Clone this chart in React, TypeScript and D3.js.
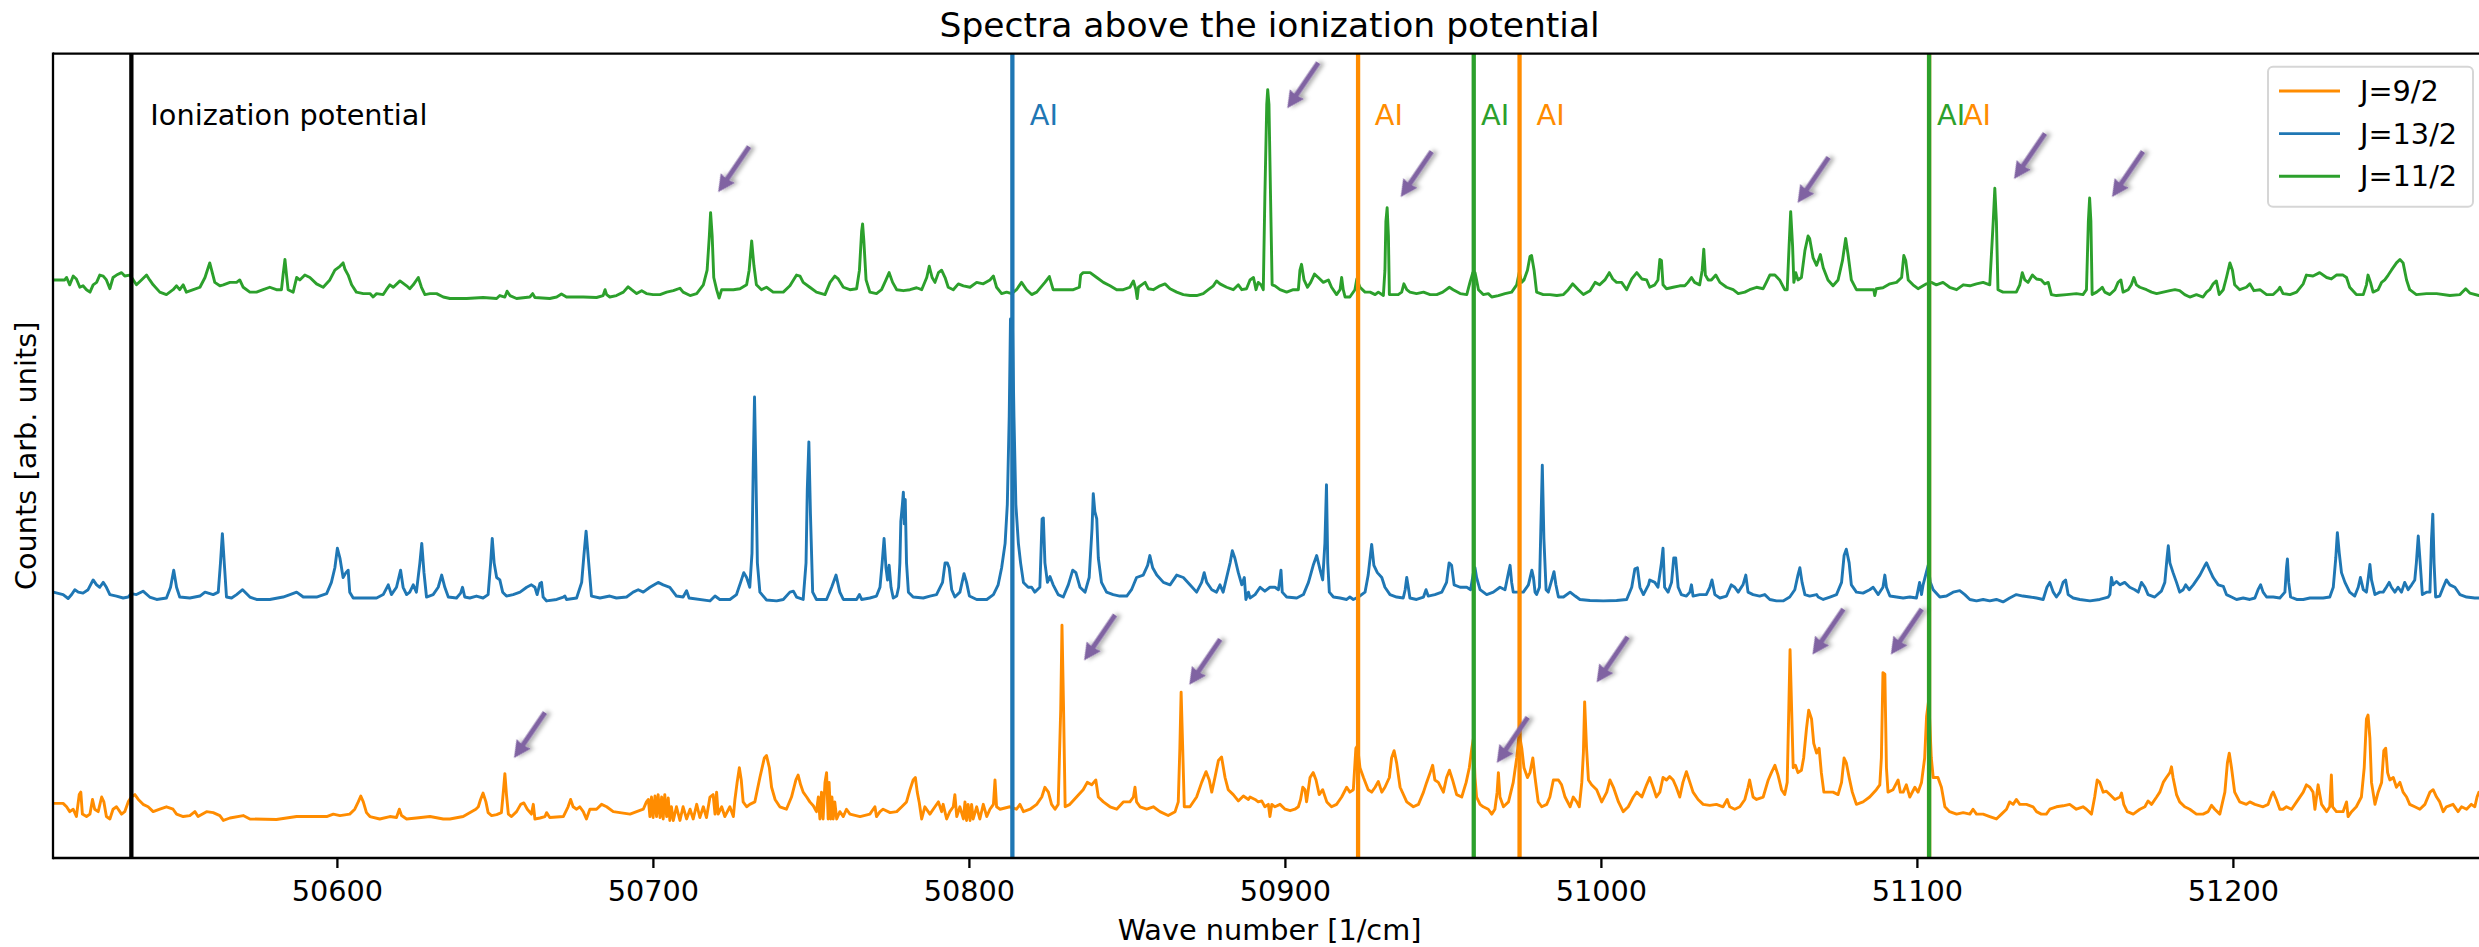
import React from 'react';
import * as d3 from 'd3';

const WIDTH = 2479;
const HEIGHT = 947;
const TITLE = 'Spectra above the ionization potential';
const X_LABEL = 'Wave number [1/cm]';
const Y_LABEL = 'Counts [arb. units]';
const X_TICKS = [50600, 50700, 50800, 50900, 51000, 51100, 51200];
const X_DOMAIN: [number, number] = [50510, 51280];
const Y_DOMAIN: [number, number] = [0, 1649];

const SERIES_NAMES = ['J=9/2', 'J=13/2', 'J=11/2'];
const SERIES_COLORS = ['#ff8c00', '#1f77b4', '#2ca02c'];

type P = [number, number];

// J=9/2 (orange)
const J9_2: P[] = [
[50510.1,112],[50513.2,112],[50514.3,105],[50515.3,95],[50516.4,100],[50517.4,85],[50518.3,130],[50518.8,135],[50519.3,90],[50520.6,85],[50521.7,90],[50522.5,120],[50523.2,100],[50524.3,95],[50525.4,125],[50526.1,115],[50526.9,85],[50528.0,80],[50529.0,100],[50530.1,105],[50531.7,90],[50532.7,95],[50533.8,115],[50534.8,125],[50535.9,130],[50537.0,120],[50538.5,110],[50540.1,105],[50541.7,95],[50543.8,100],[50545.9,105],[50548.0,100],[50549.1,90],[50551.2,85],[50553.3,87],[50554.9,95],[50555.9,85],[50558.6,95],[50560.7,93],[50562.8,87],[50563.9,77],[50566.0,82],[50570.2,87],[50572.3,80],[50580.7,79],[50587.1,85],[50593.4,85],[50596.6,85],[50598.7,90],[50600.8,87],[50603.9,90],[50605.5,100],[50606.6,115],[50607.4,127],[50608.2,115],[50609.2,93],[50610.3,85],[50613.4,80],[50616.6,85],[50618.7,83],[50619.6,100],[50620.3,87],[50621.9,80],[50625.0,82],[50629.3,85],[50633.5,80],
[50635.6,80],[50639.8,85],[50643.8,100],[50644.6,105],[50645.3,120],[50646.1,133],[50647.0,115],[50647.7,93],[50648.8,87],[50650.4,89],[50651.9,93],[50652.5,135],[50653.0,173],[50653.5,130],[50654.1,90],[50655.1,85],[50656.7,95],[50658.0,110],[50659.0,113],[50660.1,100],[50661.4,90],[50662.0,110],[50662.5,80],[50664.1,82],[50665.7,85],[50666.2,93],[50667.2,83],[50671.5,85],[50673.0,105],[50673.8,120],[50674.6,105],[50675.7,100],[50676.7,105],[50677.8,95],[50678.8,80],[50679.9,100],[50682.0,100],[50683.6,110],[50685.2,105],[50687.3,95],[50689.4,93],[50692.6,90],[50694.7,95],[50696.8,100],[50697.8,115],[50698.4,120],[50698.9,85],[50699.4,125],[50699.9,83],[50700.5,127],[50701.0,85],[50701.5,130],[50702.1,83],[50702.6,125],[50703.1,80],[50703.6,130],[50704.2,85],[50704.7,123],[50705.2,77],[50705.7,105],[50706.3,77],[50707.3,105],[50708.4,77],[50709.4,105],[50710.5,80],[50711.6,100],[50712.6,80],[50713.7,110],[50714.7,83],[50715.8,105],[50716.8,83],[50717.9,125],[50718.9,130],[50719.5,90],[50720.0,135],[50720.5,90],[50721.6,105],[50722.6,85],[50724.2,105],[50725.3,85],[50725.8,120],[50726.5,155],[50727.2,185],[50727.8,160],[50728.4,115],[50729.5,105],[50730.5,110],[50732.1,115],[50733.7,165],[50735.1,205],[50735.8,210],[50736.7,185],[50737.4,145],[50738.5,120],[50740.0,105],[50742.1,100],[50743.7,125],[50745.1,160],[50745.8,170],[50746.6,150],[50747.4,135],[50748.5,125],[50749.5,115],[50750.6,107],[50751.6,95],[50752.2,125],[50752.7,80],[50753.2,135],[50753.7,80],[50754.3,155],[50754.8,175],[50755.3,80],[50755.6,155],[50756.1,80],[50756.5,125],[50756.9,80],[50757.4,115],[50758.0,80],[50759.0,95],[50760.1,85],[50761.1,100],
[50762.2,90],[50765.4,85],[50768.5,90],[50770.1,105],[50770.6,85],[50771.7,95],[50772.7,100],[50774.9,93],[50777.0,95],[50778.6,105],[50780.1,115],[50781.2,140],[50782.2,160],[50782.9,165],[50783.5,135],[50784.1,115],[50784.9,80],[50785.9,105],[50787.5,90],[50789.1,105],[50790.2,115],[50791.2,95],[50791.7,110],[50792.8,80],[50793.8,95],[50794.9,105],[50795.4,130],[50796.0,85],[50797.0,105],[50798.1,80],[50798.6,115],[50799.1,77],[50799.6,110],[50800.2,77],[50800.7,110],[50801.2,80],[50802.3,105],[50803.3,80],[50804.4,110],[50805.5,85],[50806.5,100],[50807.6,110],[50808.1,160],[50808.6,105],[50809.7,100],[50812.8,105],[50814.9,100],[50816.0,110],[50817.1,95],[50819.2,100],[50821.3,110],[50822.9,125],[50823.9,145],[50825.0,135],[50826.0,110],[50827.1,100],[50828.1,110],[50828.9,305],[50829.3,477],[50829.8,305],[50830.3,105],[50831.8,110],[50833.9,125],[50836.0,140],[50837.3,155],[50838.7,150],[50840.0,160],[50840.8,125],[50842.4,115],[50844.5,105],[50846.6,100],[50848.7,115],[50850.8,115],[50851.9,125],[50852.4,145],[50852.9,115],[50854.0,105],[50856.1,100],[50858.2,105],[50860.3,95],[50862.9,87],[50865.1,95],[50866.1,115],[50866.6,225],[50867.0,340],[50867.5,225],[50868.0,105],[50869.8,105],[50871.9,125],[50873.5,155],[50874.9,177],[50875.9,160],[50876.7,135],[50877.7,165],[50878.8,200],[50879.8,207],[50880.9,165],[50881.9,140],[50883.5,130],[50885.1,117],[50886.7,127],[50888.3,120],
[50888.8,125],[50890.4,120],[50891.4,115],[50892.5,117],[50893.5,105],[50894.6,110],[50895.1,85],[50895.7,110],[50896.7,105],[50898.3,110],[50899.9,100],[50901.5,97],[50903.0,100],[50904.1,105],[50904.8,120],[50905.5,145],[50906.2,140],[50906.7,115],[50907.8,165],[50908.8,175],[50909.7,160],[50910.7,130],[50911.8,140],[50913.1,115],[50914.6,105],[50916.2,110],[50917.8,125],[50919.4,145],[50920.4,135],[50921.5,140],[50922.3,225],[50922.8,230],[50923.6,185],[50924.7,165],[50926.2,140],[50927.3,135],[50928.4,145],[50929.4,157],[50930.5,135],[50931.5,145],[50932.9,165],[50933.6,205],[50934.4,220],[50935.2,195],[50936.3,145],[50938.4,115],[50940.5,105],[50942.1,110],[50943.7,135],[50944.7,155],[50945.8,175],[50946.6,190],[50947.3,160],[50948.4,155],[50950.0,135],[50951.0,165],[50951.9,180],[50952.9,160],[50954.2,130],[50955.8,125],[50957.2,155],[50958.2,185],[50959.0,225],[50959.5,245],[50960.0,165],[50960.5,125],[50961.6,110],[50962.6,105],[50964.2,100],[50965.3,90],[50966.3,100],[50967.0,135],[50967.4,175],[50967.9,125],[50969.0,105],[50970.6,115],[50972.1,155],[50973.2,205],[50974.0,255],[50974.8,225],[50975.5,185],[50976.6,165],[50977.4,175],[50978.3,205],[50979.0,165],[50980.0,115],[50981.1,105],[50982.7,110],[50983.7,125],[50984.8,160],[50986.4,160],[50987.4,150],[50988.5,125],[50990.1,105],[50991.1,125],[50992.2,115],[50993.0,105],[50993.8,155],[50994.3,215],[50994.7,320],[50995.3,225],[50995.9,160],[50996.9,150],[50998.5,140],[51000.1,115],[51001.7,135],[51002.7,160],[51003.8,145],[51005.4,115],[51006.9,95],[51008.5,105],[51010.1,125],[51011.2,135],[51012.8,125],[51014.3,150],
[51015.3,165],[51016.4,145],[51017.4,125],[51018.5,135],[51019.5,165],[51020.6,160],[51021.6,167],[51022.7,160],[51023.7,145],[51024.8,125],[51025.8,155],[51026.9,177],[51028.0,155],[51029.0,135],[51030.6,120],[51032.2,110],[51034.3,108],[51036.4,110],[51038.5,105],[51039.8,120],[51040.6,105],[51042.2,100],[51043.8,105],[51045.4,120],[51046.4,145],[51046.9,160],[51048.0,125],[51049.1,120],[51051.2,125],[51052.8,160],[51053.8,175],[51054.9,190],[51055.9,170],[51057.0,140],[51058.0,130],[51058.8,155],[51059.3,305],[51059.7,427],[51060.2,305],[51060.7,185],[51061.4,190],[51062.2,175],[51063.3,180],[51064.0,205],[51064.9,265],[51065.6,303],[51066.5,285],[51067.2,235],[51068.1,215],[51068.9,225],[51069.6,175],[51070.4,135],[51071.7,135],[51073.3,135],[51074.9,130],[51076.0,155],[51076.8,205],[51077.5,195],[51078.4,165],[51079.4,135],[51080.7,110],[51082.8,115],[51084.9,125],[51087.0,140],[51088.1,150],[51088.6,205],[51089.1,380],[51089.7,377],[51090.2,185],[51090.7,135],[51092.3,140],[51093.9,160],[51094.6,135],[51095.5,135],[51096.5,150],[51097.6,125],[51099.2,145],[51100.2,135],[51101.3,155],[51102.3,205],[51102.9,290],[51103.6,325],[51104.4,205],[51105.0,165],[51106.5,165],[51107.6,145],[51108.7,105],[51110.2,95],[51112.4,90],[51114.5,93],[51116.6,90],[51117.6,100],[51118.7,90],[51120.8,90],[51122.9,85],[51125.0,80],[51126.6,90],[51128.2,100],[51129.2,115],[51130.3,110],[51131.3,120],[51132.4,110],[51134.5,110],[51136.6,105],[51137.7,95],[51139.2,90],[51140.8,90],
[51141.9,100],[51144.0,105],[51146.1,107],[51148.2,110],[51150.3,100],[51152.4,105],[51153.5,100],[51155.1,90],[51156.1,125],[51156.9,160],[51157.7,155],[51158.8,135],[51159.8,137],[51160.9,130],[51162.5,120],[51164.1,125],[51164.6,133],[51165.3,110],[51166.4,95],[51168.3,90],[51170.4,100],[51172.0,105],[51173.0,117],[51174.1,110],[51175.7,125],[51176.7,135],[51177.8,155],[51178.8,165],[51179.9,175],[51180.4,187],[51180.9,165],[51182.0,130],[51183.0,115],[51184.6,105],[51186.2,100],[51188.3,90],[51190.4,90],[51192.0,95],[51193.1,108],[51194.1,100],[51195.7,90],[51197.3,135],[51198.1,195],[51198.7,215],[51199.4,185],[51200.4,135],[51202.0,115],[51204.1,110],[51205.2,115],[51206.8,110],[51209.4,105],[51211.0,110],[51212.1,130],[51212.6,135],[51213.6,120],[51214.7,100],[51215.7,100],[51216.8,105],[51218.4,100],[51220.0,115],[51222.1,135],[51223.1,150],[51224.2,145],[51225.2,135],[51225.8,100],[51226.8,150],[51227.9,110],[51229.5,95],[51230.5,105],[51231.0,170],[51231.4,105],[51232.6,95],[51234.7,95],[51235.8,115],[51236.3,85],[51237.4,95],[51238.9,105],[51240.5,125],[51241.4,185],[51242.1,285],[51242.6,293],[51243.2,245],[51243.7,155],[51244.8,110],[51245.8,135],[51246.9,155],[51247.6,220],[51248.2,225],[51248.8,175],[51249.5,160],[51250.6,165],[51251.6,145],[51252.7,155],[51253.7,135],[51254.8,125],[51255.8,110],[51257.4,105],[51259.0,100],[51260.6,110],[51262.2,135],[51263.2,140],[51264.3,125],[51265.3,115],[51266.4,95],[51267.4,105],[51269.5,110],[51271.1,95],[51272.2,105],[51273.8,100],[51275.3,110],[51276.4,105],[51277.1,125],[51277.7,135],[51280,130]
];

// J=13/2 (blue)
const J13_2: P[] = [
[50510.1,545],[50513.2,540],[50514.8,532],[50515.9,540],[50516.9,550],[50518.0,545],[50519.5,543],[50521.1,550],[50522.7,570],[50523.8,560],[50524.8,555],[50525.9,565],[50526.9,555],[50528.0,540],[50530.1,537],[50532.2,533],[50533.8,535],[50534.8,542],[50536.4,540],[50538.5,547],[50540.6,535],[50542.8,530],[50545.9,533],[50547.2,555],[50548.2,590],[50549.1,555],[50550.1,535],[50553.3,533],[50556.5,537],[50558.1,545],[50560.7,540],[50562.3,545],[50563.0,605],[50563.6,665],[50564.3,595],[50564.9,535],[50566.5,533],[50568.1,540],[50570.0,550],[50572.3,535],[50574.4,530],[50578.6,530],[50582.8,535],[50585.0,540],[50587.1,545],[50589.2,535],[50593.4,535],[50596.6,542],[50598.1,565],[50599.2,595],[50600.0,635],[50600.8,615],[50601.8,575],[50602.7,585],[50603.4,590],[50603.9,545],[50605.0,533],[50609.2,533],[50612.4,533],[50614.5,540],[50616.1,560],[50617.1,540],[50618.7,555],[50620.0,590],[50620.8,555],[50621.9,540],[50622.9,545],[50624.0,560],[50625.0,545],[50626.1,605],[50626.7,645],[50627.4,585],[50628.2,535],[50630.3,540],[50631.9,555],[50633.0,580],[50634.0,555],[50635.1,535],
[50637.7,533],[50639.0,543],[50639.6,555],[50640.3,535],[50641.9,533],[50644.0,537],[50646.1,533],[50647.7,540],[50648.5,605],[50649.0,655],[50649.6,605],[50650.4,575],[50651.4,570],[50652.3,545],[50653.5,537],[50655.6,540],[50657.8,545],[50659.9,555],[50661.4,560],[50662.5,555],[50663.2,540],[50664.1,563],[50664.6,565],[50665.1,535],[50666.2,527],[50669.4,530],[50671.5,535],[50672.0,537],[50672.5,530],[50675.7,533],[50677.3,565],[50678.0,620],[50678.7,670],[50679.4,615],[50680.4,537],[50683.1,533],[50686.2,537],[50688.3,533],[50691.5,535],[50693.6,545],[50695.2,550],[50696.8,545],[50698.9,555],[50701.5,565],[50703.1,560],[50705.2,555],[50707.3,537],[50709.4,535],[50710.5,548],[50711.3,533],[50717.9,527],[50719.5,537],[50721.0,530],[50724.2,530],[50726.3,540],[50727.6,565],[50728.6,585],[50729.5,575],[50730.5,555],[50731.2,625],[50731.6,805],[50732.0,945],[50732.4,805],[50732.9,605],[50733.7,545],[50735.8,529],[50739.0,527],[50741.1,530],[50743.2,545],[50744.3,547],[50745.3,535],[50747.4,530],[50748.3,605],[50748.7,755],[50749.2,853],[50749.7,705],[50750.4,545],[50751.6,530],[50754.8,530],[50756.4,555],[50757.8,580],[50759.0,545],[50760.1,530],
[50762.2,530],[50764.3,530],[50765.2,540],[50765.9,530],[50768.5,533],[50770.6,537],[50771.7,555],[50772.4,605],[50773.0,655],[50773.6,595],[50774.1,570],[50774.6,600],[50775.2,555],[50775.9,533],[50777.0,537],[50777.6,555],[50778.0,605],[50778.3,690],[50778.8,725],[50779.1,750],[50779.4,685],[50779.7,735],[50780.1,605],[50780.7,545],[50782.2,535],[50785.4,533],[50787.5,537],[50789.6,540],[50791.5,565],[50792.3,605],[50793.0,605],[50793.6,595],[50794.4,550],[50795.4,535],[50797.0,545],[50798.3,583],[50799.1,565],[50800.0,537],[50802.3,530],[50805.5,530],[50807.6,540],[50809.1,560],[50810.2,595],[50811.3,645],[50812.0,725],[50812.6,905],[50813.0,1105],[50813.6,1105],[50814.1,905],[50814.7,725],[50815.5,645],[50816.2,605],[50817.1,565],[50818.6,555],[50819.7,555],[50820.7,545],[50822.3,555],[50823.0,695],[50823.4,697],[50823.9,605],[50824.7,565],[50825.5,577],[50826.5,560],[50828.1,540],[50829.7,535],[50831.3,560],[50832.7,590],[50833.7,585],[50835.0,555],[50836.6,545],[50837.9,575],[50838.8,675],[50839.2,747],[50839.7,710],[50840.3,695],[50840.8,615],[50841.8,565],[50843.4,545],[50845.5,540],[50847.6,537],[50849.8,537],[50851.3,550],[50852.9,575],[50855.0,580],[50856.4,600],[50857.1,620],[50858.0,595],[50859.3,580],[50861.4,565],[50863.5,560],[50865.6,580],[50867.7,575],[50869.8,560],[50871.9,545],[50873.5,565],[50874.3,585],[50875.1,565],[50876.7,550],[50878.2,545],[50879.3,560],[50880.3,545],[50882.5,605],[50883.2,630],[50884.0,615],[50885.1,585],[50886.2,560],[50887.0,575],[50887.5,530],[50888.3,545],
[50888.8,533],[50890.4,540],[50892.0,555],[50893.5,547],[50895.1,555],[50896.7,555],[50897.8,550],[50898.3,575],[50898.6,590],[50899.0,545],[50900.4,535],[50903.6,533],[50905.7,540],[50907.3,565],[50908.8,600],[50909.9,620],[50911.0,590],[50911.8,570],[50912.5,645],[50913.0,765],[50913.4,605],[50913.9,545],[50915.2,535],[50917.3,533],[50919.4,530],[50920.4,535],[50921.5,530],[50923.1,535],[50925.2,545],[50926.2,580],[50927.3,643],[50928.0,600],[50929.1,585],[50930.5,575],[50931.5,555],[50933.1,540],[50935.2,535],[50937.3,533],[50937.9,550],[50938.4,575],[50938.9,555],[50939.4,533],[50941.5,530],[50943.7,535],[50944.5,550],[50945.2,537],[50947.3,540],[50949.5,545],[50951.0,565],[50951.8,605],[50952.6,600],[50953.4,560],[50955.3,555],[50957.4,555],[50958.6,550],[50959.5,585],[50960.0,595],[50960.5,575],[50961.6,550],[50963.7,540],[50965.8,545],[50967.9,555],[50969.5,550],[50970.6,585],[50971.1,600],[50971.6,565],[50972.1,545],[50973.7,545],[50975.3,545],[50976.9,560],[50978.0,590],[50978.5,575],[50979.0,545],[50979.5,540],[50980.4,555],[50980.8,665],[50981.3,805],[50981.8,655],[50982.5,550],[50983.2,545],[50984.3,570],[50985.0,587],[50985.6,560],[50986.4,535],[50988.0,535],[50990.1,545],[50991.7,537],[50993.2,530],[50996.4,528],[51000.6,527],[51004.8,528],[51008.0,530],[51009.6,555],[51010.6,593],[51011.4,595],[51012.2,555],[51013.3,540],[51014.9,560],
[51015.3,570],[51016.9,565],[51017.9,555],[51019.0,605],[51019.5,635],[51020.0,555],[51021.1,545],[51022.2,565],[51022.9,615],[51023.5,615],[51024.3,555],[51025.3,540],[51026.9,537],[51028.0,545],[51028.5,560],[51029.0,537],[51031.1,540],[51033.2,540],[51034.3,555],[51035.0,570],[51035.9,540],[51037.5,533],[51039.6,537],[51041.1,560],[51042.2,555],[51043.3,545],[51044.8,560],[51045.7,580],[51046.4,545],[51048.0,540],[51050.1,537],[51051.7,540],[51053.3,530],[51055.4,527],[51057.5,527],[51059.6,535],[51061.2,550],[51062.2,580],[51062.8,595],[51063.5,565],[51064.4,540],[51065.9,537],[51068.1,540],[51068.6,535],[51070.2,530],[51072.3,535],[51074.4,540],[51076.0,565],[51076.8,620],[51077.5,633],[51078.4,605],[51079.1,560],[51080.7,545],[51082.8,543],[51084.9,550],[51086.0,555],[51087.6,540],[51089.1,555],[51089.7,580],[51090.2,555],[51091.3,537],[51093.4,535],[51095.5,533],[51097.6,535],[51099.7,533],[51100.7,565],[51101.3,540],[51101.8,560],[51103.4,600],[51104.1,565],[51105.0,550],[51107.1,535],[51109.2,537],[51111.3,545],[51113.4,548],[51115.0,540],[51116.6,530],[51118.7,527],[51120.8,530],[51122.9,527],[51125.0,530],[51127.1,525],[51129.2,533],[51131.3,540],[51133.4,537],[51135.6,535],[51137.7,533],[51139.8,530],[51141.0,555],
[51141.9,565],[51143.0,545],[51144.0,535],[51145.1,545],[51146.1,565],[51146.9,570],[51147.7,540],[51149.3,533],[51151.4,530],[51154.6,527],[51157.7,530],[51160.4,535],[51160.9,540],[51161.4,575],[51161.9,560],[51163.0,567],[51164.1,560],[51165.6,565],[51167.2,555],[51168.8,550],[51169.9,545],[51170.9,565],[51172.0,555],[51173.0,540],[51175.1,535],[51177.2,547],[51178.3,565],[51179.0,615],[51179.4,640],[51179.9,605],[51180.9,585],[51182.0,565],[51183.0,545],[51184.1,550],[51184.9,560],[51186.0,550],[51187.3,560],[51189.4,580],[51191.0,600],[51191.5,605],[51192.5,590],[51193.6,575],[51195.2,560],[51196.8,557],[51197.8,540],[51199.4,535],[51201.0,530],[51203.1,533],[51205.2,530],[51206.8,533],[51207.8,550],[51208.6,560],[51209.4,545],[51210.5,535],[51212.6,535],[51214.7,533],[51216.3,545],[51216.8,595],[51217.1,613],[51217.5,565],[51218.1,535],[51220.0,530],[51222.1,530],[51224.2,533],[51226.3,533],[51228.4,533],[51230.5,535],[51231.6,555],[51232.4,615],[51232.9,667],[51233.5,625],[51234.2,585],[51235.3,565],[51236.8,545],[51238.4,537],[51239.5,555],[51240.2,575],[51241.1,550],[51242.1,545],[51242.7,575],[51243.2,602],[51243.7,570],[51244.8,540],[51246.3,545],[51247.4,545],[51248.4,555],[51249.3,565],[51250.0,555],[51251.1,545],[51252.1,555],[51253.2,545],[51254.2,565],[51255.3,550],[51256.4,560],[51257.4,570],[51257.9,605],[51258.5,660],[51259.0,615],[51259.8,540],[51261.1,545],[51262.2,545],[51262.7,655],[51263.1,705],[51263.5,605],[51264.0,535],[51265.3,537],[51266.4,555],[51267.4,570],[51268.5,560],[51270.1,555],[51271.7,540],[51273.8,535],[51276.4,533],[51280,533]
];

// J=11/2 (green)
const J11_2: P[] = [
[50510.1,1185],[50513.7,1185],[50514.3,1190],[50515.3,1175],[50516.4,1193],[50517.4,1187],[50518.5,1170],[50519.5,1173],[50520.6,1165],[50521.7,1160],[50522.7,1175],[50523.8,1180],[50524.8,1195],[50525.9,1193],[50526.9,1185],[50528.0,1167],[50529.0,1190],[50530.1,1195],[50531.7,1200],[50532.7,1193],[50534.3,1195],[50535.4,1185],[50536.4,1175],[50538.0,1185],[50539.6,1195],[50540.6,1185],[50541.7,1175],[50543.8,1160],[50545.9,1155],[50548.0,1165],[50549.1,1173],[50550.1,1165],[50551.2,1175],[50552.2,1160],[50554.4,1165],[50556.5,1170],[50558.1,1190],[50559.1,1210],[50559.6,1220],[50560.2,1205],[50561.2,1180],[50562.8,1173],[50563.9,1175],[50566.0,1180],[50568.1,1180],[50569.1,1185],[50570.2,1170],[50572.3,1160],[50574.4,1160],[50576.5,1165],[50578.6,1170],[50580.7,1165],[50582.3,1165],[50582.8,1195],[50583.4,1227],[50583.9,1195],[50584.4,1165],[50586.0,1160],[50587.1,1190],[50588.1,1185],[50589.7,1195],[50591.3,1190],[50593.4,1177],[50595.5,1170],[50597.6,1185],[50599.2,1205],[50600.8,1213],[50601.8,1220],[50602.4,1207],[50603.4,1195],[50604.5,1175],[50606.0,1160],[50608.2,1157],[50610.3,1157],[50611.3,1150],[50612.4,1157],[50614.5,1155],[50615.5,1165],[50616.6,1175],[50617.7,1170],[50619.8,1183],[50621.9,1173],[50622.9,1167],[50624.0,1175],[50625.6,1190],[50626.6,1170],[50627.7,1155],[50629.3,1157],[50631.4,1157],[50633.5,1150],
[50635.6,1147],[50640.9,1147],[50646.1,1149],[50650.4,1147],[50651.4,1153],[50653.0,1150],[50653.7,1162],[50654.6,1153],[50656.7,1147],[50660.9,1150],[50661.8,1157],[50662.5,1149],[50667.2,1147],[50669.4,1150],[50670.9,1156],[50672.5,1150],[50677.8,1150],[50682.0,1149],[50684.1,1153],[50684.7,1165],[50685.2,1155],[50686.2,1150],[50688.3,1153],[50690.5,1160],[50692.0,1171],[50693.1,1165],[50694.7,1157],[50696.3,1163],[50697.8,1157],[50699.9,1155],[50702.1,1155],[50704.2,1160],[50706.3,1163],[50708.4,1168],[50709.4,1160],[50711.6,1153],[50713.7,1157],[50715.8,1175],[50717.0,1205],[50717.7,1275],[50718.1,1323],[50718.6,1275],[50719.1,1190],[50720.0,1165],[50720.8,1148],[50721.6,1165],[50725.3,1165],[50727.4,1167],[50729.5,1175],[50730.3,1205],[50731.1,1265],[50731.8,1215],[50732.6,1175],[50734.2,1165],[50735.8,1170],[50737.9,1160],[50741.1,1160],[50743.2,1173],[50745.3,1195],[50746.4,1193],[50747.4,1180],[50749.5,1170],[50751.6,1160],[50754.3,1155],[50755.9,1180],[50757.4,1193],[50758.5,1187],[50760.1,1170],
[50762.2,1165],[50764.3,1167],[50765.2,1205],[50765.9,1285],[50766.2,1300],[50766.6,1265],[50767.3,1185],[50768.5,1160],[50770.6,1157],[50772.2,1165],[50773.6,1185],[50774.6,1200],[50775.7,1180],[50777.0,1165],[50779.1,1163],[50781.2,1165],[50783.3,1169],[50784.9,1165],[50786.5,1190],[50787.3,1213],[50788.2,1190],[50789.1,1180],[50790.2,1200],[50791.2,1205],[50792.3,1190],[50793.3,1170],[50794.9,1165],[50796.5,1177],[50798.1,1173],[50800.2,1170],[50802.3,1180],[50804.4,1177],[50806.5,1185],[50807.6,1193],[50808.6,1170],[50810.2,1157],[50811.8,1160],[50813.4,1157],[50814.9,1165],[50816.5,1180],[50818.1,1165],[50819.7,1155],[50821.3,1160],[50823.9,1180],[50825.3,1192],[50826.5,1165],[50829.7,1165],[50832.9,1165],[50834.8,1170],[50835.2,1195],[50836.0,1200],[50838.2,1200],[50840.3,1190],[50842.4,1180],[50844.5,1173],[50846.6,1165],[50848.7,1165],[50850.8,1170],[50851.9,1183],[50852.7,1165],[50853.1,1147],[50853.5,1170],[50854.5,1175],[50855.6,1180],[50856.6,1167],[50858.2,1165],[50860.3,1173],[50861.9,1177],[50863.5,1167],[50865.6,1160],[50867.7,1155],[50869.8,1153],[50871.9,1153],[50874.0,1157],[50875.6,1165],[50877.2,1173],[50878.2,1183],[50879.3,1177],[50881.4,1170],[50883.5,1165],[50885.1,1175],[50886.2,1165],[50887.7,1167],
[50888.8,1185],[50889.9,1190],[50890.7,1165],[50891.4,1180],[50892.3,1175],[50893.0,1165],[50893.5,1355],[50894.1,1545],[50894.4,1575],[50894.8,1545],[50895.3,1355],[50895.8,1175],[50896.7,1173],[50898.3,1165],[50900.4,1160],[50902.5,1165],[50904.1,1165],[50904.6,1205],[50905.1,1217],[50905.9,1185],[50907.0,1170],[50908.0,1180],[50909.2,1197],[50910.4,1190],[50912.0,1180],[50913.6,1185],[50914.6,1170],[50916.2,1155],[50917.3,1165],[50917.8,1190],[50918.3,1165],[50918.9,1150],[50920.4,1150],[50922.0,1165],[50922.6,1187],[50923.6,1170],[50925.2,1160],[50926.8,1160],[50928.4,1155],[50929.4,1160],[50931.0,1153],[50931.5,1205],[50931.8,1305],[50932.2,1333],[50932.6,1275],[50932.9,1155],[50934.2,1155],[50935.7,1155],[50936.8,1160],[50937.5,1177],[50938.4,1165],[50939.4,1160],[50941.5,1157],[50943.7,1160],[50945.8,1155],[50947.9,1155],[50949.8,1160],[50951.9,1170],[50953.1,1165],[50955.3,1157],[50957.4,1155],[50958.4,1180],[50959.3,1200],[50960.0,1200],[50960.5,1185],[50961.1,1165],[50962.6,1155],[50964.2,1157],[50965.3,1150],[50967.4,1153],[50969.5,1157],[50971.6,1160],[50973.2,1175],[50974.0,1200],[50974.8,1180],[50975.5,1185],[50976.6,1205],[50977.4,1233],[50977.9,1235],[50978.7,1205],[50979.5,1160],[50981.6,1155],[50983.7,1155],[50985.9,1153],[50988.0,1155],[50989.5,1165],[50990.9,1177],[50992.7,1165],[50994.3,1155],[50996.4,1163],[50998.0,1180],[50999.4,1175],[51001.1,1185],[51002.5,1200],[51003.6,1187],[51004.8,1180],[51006.4,1180],[51008.0,1165],[51009.6,1187],[51011.2,1200],[51012.8,1187],[51014.3,1185],
[51015.3,1170],[51016.9,1175],[51017.9,1185],[51018.5,1227],[51019.0,1225],[51019.5,1175],[51020.6,1167],[51022.7,1170],[51024.8,1173],[51026.4,1173],[51027.4,1180],[51028.5,1190],[51029.5,1180],[51031.1,1175],[51031.9,1205],[51032.4,1248],[51032.9,1195],[51033.8,1185],[51034.8,1185],[51036.2,1195],[51037.5,1180],[51039.6,1170],[51041.7,1165],[51043.3,1157],[51045.4,1160],[51046.9,1165],[51049.1,1170],[51051.2,1167],[51052.2,1180],[51053.3,1195],[51054.9,1195],[51056.4,1185],[51058.0,1165],[51058.8,1165],[51059.4,1255],[51059.9,1325],[51060.5,1255],[51060.9,1180],[51061.5,1200],[51062.2,1185],[51063.3,1190],[51064.4,1245],[51065.4,1275],[51065.9,1270],[51067.0,1230],[51068.1,1215],[51069.3,1237],[51070.2,1210],[51071.7,1185],[51073.3,1173],[51074.9,1185],[51076.3,1225],[51077.3,1270],[51078.1,1235],[51079.1,1185],[51080.7,1165],[51082.8,1165],[51084.9,1165],[51086.2,1165],[51086.5,1153],[51087.0,1167],[51089.1,1169],[51091.3,1177],[51093.4,1180],[51095.0,1190],[51095.7,1235],[51096.3,1225],[51097.1,1185],[51098.6,1175],[51100.2,1167],[51101.8,1173],[51102.9,1177],[51104.4,1180],[51106.0,1175],[51108.1,1180],[51110.2,1170],[51112.4,1165],[51114.5,1175],[51116.6,1173],[51118.7,1177],[51120.8,1180],[51122.9,1175],[51124.0,1305],[51124.5,1373],[51125.0,1305],[51125.5,1165],[51127.1,1160],[51129.2,1160],[51131.3,1160],[51132.4,1175],[51133.2,1200],[51134.0,1185],[51135.0,1180],[51136.4,1195],[51137.7,1187],[51139.2,1185],[51140.3,1177],[51141.4,1180],
[51142.4,1155],[51144.0,1153],[51147.2,1155],[51150.3,1157],[51152.4,1155],[51153.5,1165],[51154.1,1305],[51154.5,1353],[51154.9,1305],[51155.3,1155],[51156.7,1160],[51157.7,1165],[51158.5,1170],[51159.3,1160],[51160.9,1155],[51162.5,1165],[51163.5,1180],[51164.4,1185],[51165.1,1160],[51166.7,1165],[51167.7,1175],[51168.5,1190],[51169.3,1175],[51170.4,1170],[51172.5,1165],[51174.1,1160],[51175.7,1157],[51177.8,1160],[51179.9,1163],[51181.5,1165],[51183.0,1163],[51184.6,1155],[51186.2,1150],[51188.3,1155],[51190.4,1150],[51191.5,1160],[51192.5,1165],[51193.6,1177],[51194.6,1183],[51195.5,1155],[51196.8,1165],[51197.8,1190],[51198.9,1220],[51199.7,1205],[51200.4,1175],[51202.0,1165],[51204.1,1170],[51205.2,1177],[51206.5,1163],[51208.4,1165],[51210.5,1155],[51212.6,1155],[51214.2,1165],[51214.7,1170],[51215.7,1157],[51217.9,1155],[51220.0,1160],[51222.1,1177],[51223.1,1195],[51225.2,1193],[51227.3,1200],[51229.5,1190],[51231.0,1187],[51232.6,1195],[51234.7,1195],[51235.8,1190],[51236.8,1170],[51238.9,1155],[51241.1,1155],[51242.1,1175],[51242.6,1195],[51243.4,1180],[51244.2,1160],[51245.8,1165],[51246.9,1180],[51247.9,1185],[51249.0,1195],[51250.0,1205],[51251.6,1220],[51252.7,1227],[51253.7,1220],[51254.8,1185],[51255.8,1165],[51257.9,1155],[51261.1,1157],[51264.3,1157],[51268.5,1153],[51271.7,1155],[51273.5,1167],[51274.8,1158],[51277.7,1153],[51280,1153]
];

const SERIES_DATA = [J9_2, J13_2, J11_2];

// vertical markers
const IONIZATION_POTENTIAL = 50534.8;
const AI_LINE_POSITIONS = [50813.6, 50923.0, 50974.1, 51103.7, 50959.6, 51103.7];
const AI_LINE_SERIES = [1, 0, 0, 0, 2, 2]; // index into series colours
const AI_LABEL_POSITIONS = [50819.1, 50928.3, 50979.5, 51114.4, 50961.9, 51106.2];

// arrow tips [wave number, counts]
const ARROW_TIPS: P[] = [
  [50720.5, 1365], [50900.6, 1537], [50936.5, 1355], [51062.1, 1343], [51130.6, 1392], [51161.6, 1355],
  [50655.9, 205], [50836.3, 405], [50869.6, 355], [50966.9, 195], [50998.5, 360], [51066.8, 417], [51091.6, 417],
];

const PLOT = { left: 53, right: 2486.2, top: 53.6, bottom: 858 };
const FONT = 'DejaVu Sans, Verdana, sans-serif';
const FS = 28.75;

export default function App() {
  const x = d3.scaleLinear().domain(X_DOMAIN).range([PLOT.left, PLOT.right]);
  const y = d3.scaleLinear().domain(Y_DOMAIN).range([PLOT.bottom, PLOT.top]);
  const line = d3.line<P>().x(d => x(d[0])).y(d => y(d[1]));
  const labelBaseline = 125;
  const arrowAngle = (Math.atan2(-45.5, 31) * 180) / Math.PI;
  const arrowPath = 'M0,0 L17,-8.5 L16,-2.6 L55,-2.6 L55,2.6 L16,2.6 L17,8.5 Z';
  const legendX = 2268, legendY = 66.7;

  return (
    <svg width={WIDTH} height={HEIGHT} style={{ position: 'absolute', left: 0, top: 0, display: 'block', background: '#fff' }}
      fontFamily={FONT}>
      <defs>
        <clipPath id="plotclip">
          <rect x={PLOT.left} y={PLOT.top} width={PLOT.right - PLOT.left} height={PLOT.bottom - PLOT.top} />
        </clipPath>
        <filter id="shadow" x="-50%" y="-50%" width="200%" height="200%">
          <feDropShadow dx="2.5" dy="3" stdDeviation="2" floodColor="#000" floodOpacity="0.35" />
        </filter>
      </defs>
      <rect x={0} y={0} width={WIDTH} height={HEIGHT} fill="#fff" />
      <g clipPath="url(#plotclip)">
        {SERIES_DATA.map((d, i) => (
          <path key={i} d={line(d) || ''} fill="none" stroke={SERIES_COLORS[i]} strokeWidth={2.9}
            strokeLinejoin="round" strokeLinecap="butt" />
        ))}
        <line x1={x(IONIZATION_POTENTIAL)} x2={x(IONIZATION_POTENTIAL)} y1={PLOT.top} y2={PLOT.bottom}
          stroke="#000" strokeWidth={4.3} />
        {AI_LINE_POSITIONS.map((v, i) => (
          <line key={i} x1={x(v)} x2={x(v)} y1={PLOT.top} y2={PLOT.bottom}
            stroke={SERIES_COLORS[AI_LINE_SERIES[i]]} strokeWidth={4.3} />
        ))}
      </g>
      <text x={x(IONIZATION_POTENTIAL) + 19} y={labelBaseline} fontSize={FS} fill="#000">Ionization potential</text>
      {AI_LABEL_POSITIONS.map((v, i) => (
        <text key={i} x={x(v)} y={labelBaseline} fontSize={FS} fill={SERIES_COLORS[AI_LINE_SERIES[i]]}>AI</text>
      ))}
      {ARROW_TIPS.map((t, i) => (
        <g key={i} transform={`translate(${x(t[0])},${y(t[1])}) rotate(${arrowAngle})`} filter="url(#shadow)">
          <path d={arrowPath} fill="#8064a2" />
        </g>
      ))}
      {/* spines */}
      <line x1={PLOT.left} x2={PLOT.right} y1={PLOT.top} y2={PLOT.top} stroke="#000" strokeWidth={2.3} />
      <line x1={PLOT.left} x2={PLOT.right} y1={PLOT.bottom} y2={PLOT.bottom} stroke="#000" strokeWidth={2.3} />
      <line x1={PLOT.left} x2={PLOT.left} y1={PLOT.top - 1.15} y2={PLOT.bottom + 1.15} stroke="#000" strokeWidth={2.3} />
      <line x1={PLOT.right} x2={PLOT.right} y1={PLOT.top - 1.15} y2={PLOT.bottom + 1.15} stroke="#000" strokeWidth={2.3} />
      {X_TICKS.map(t => (
        <g key={t}>
          <line x1={x(t)} x2={x(t)} y1={PLOT.bottom} y2={PLOT.bottom + 10} stroke="#000" strokeWidth={2.3} />
          <text x={x(t)} y={901} fontSize={FS} textAnchor="middle" fill="#000">{t}</text>
        </g>
      ))}
      <text x={(PLOT.left + PLOT.right) / 2} y={940} fontSize={FS} textAnchor="middle" fill="#000">{X_LABEL}</text>
      <text transform={`translate(36,${(PLOT.top + PLOT.bottom) / 2}) rotate(-90)`} fontSize={FS} textAnchor="middle" fill="#000">{Y_LABEL}</text>
      <text x={(PLOT.left + PLOT.right) / 2} y={36.5} fontSize={34.5} textAnchor="middle" fill="#000">{TITLE}</text>
      {/* legend */}
      <rect x={legendX} y={legendY} width={205} height={140} rx={5} ry={5} fill="#fff" fillOpacity={0.8}
        stroke="#d6d6d6" strokeWidth={2} />
      {SERIES_NAMES.map((n, i) => (
        <g key={n}>
          <line x1={2279} x2={2340} y1={91 + i * 42.6} y2={91 + i * 42.6} stroke={SERIES_COLORS[i]} strokeWidth={2.9} />
          <text x={2360} y={101 + i * 42.6} fontSize={FS} fill="#000">{n}</text>
        </g>
      ))}
    </svg>
  );
}
